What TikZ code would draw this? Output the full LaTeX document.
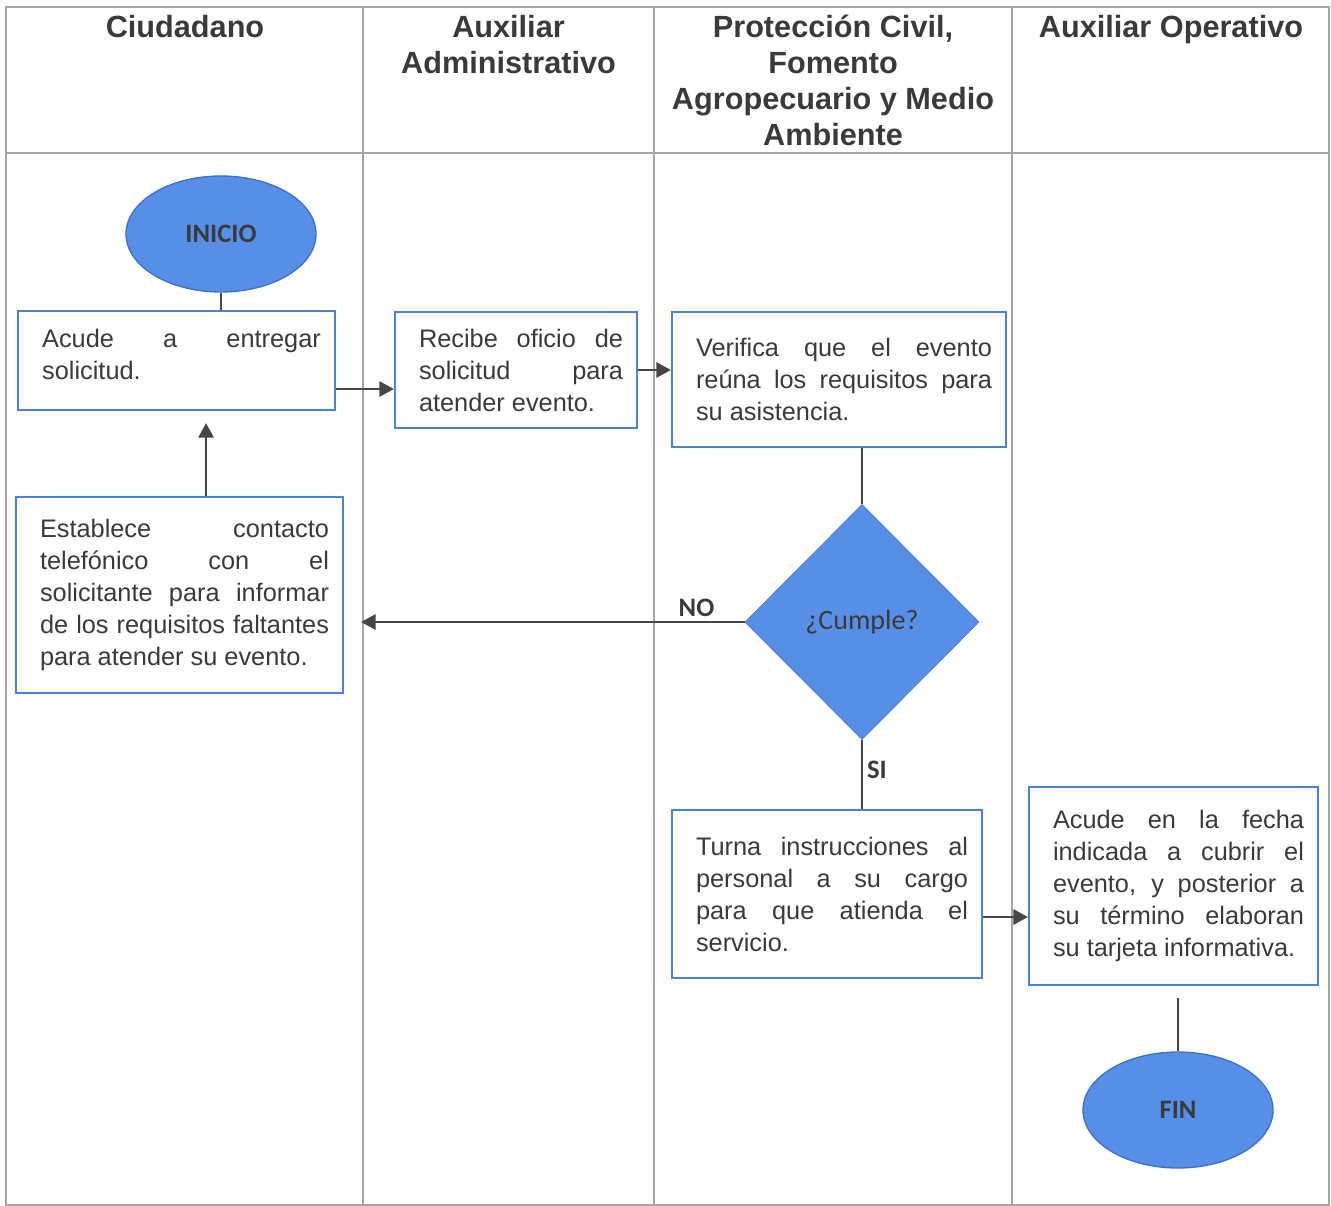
\documentclass[tikz,border=0pt]{standalone}
\usepackage{fontspec}
\setmainfont{Liberation Sans}
\newfontfamily\carlito{Carlito}
\usetikzlibrary{shapes.geometric,arrows.meta}

\definecolor{shapeblue}{RGB}{88,143,230}
\definecolor{edgeblue}{RGB}{62,112,200}
\definecolor{boxblue}{RGB}{78,128,214}
\definecolor{lanegray}{RGB}{165,165,165}
\definecolor{inkgray}{RGB}{58,58,58}
\definecolor{linkgray}{RGB}{70,70,70}

\hyphenpenalty=10000
\exhyphenpenalty=10000

\tikzset{every picture/.style={line width=0.75pt}}
\tikzset{
  lane/.style={draw=lanegray, line width=1.1pt},
  lanehead/.style={anchor=north, inner sep=0pt, align=center, text=inkgray, font=\fontsize{23}{27}\selectfont\bfseries},
  proc/.style={draw=boxblue, line width=1.6pt, fill=white, inner sep=0pt, align=justify, text=inkgray, font=\fontsize{19}{24}\selectfont, execute at begin node={\leftskip=7.5pt}},
  terminal/.style={ellipse, draw=edgeblue, fill=shapeblue, line width=1pt, minimum width=142.5pt, minimum height=87pt, inner sep=0pt, text=inkgray, font=\carlito\fontsize{20}{24}\selectfont\bfseries},
  decision/.style={diamond, draw=edgeblue!60!shapeblue, fill=shapeblue, line width=0.6pt, minimum width=175.5pt, minimum height=176.25pt, inner sep=0pt, text=inkgray, font=\carlito\fontsize{21}{25}\selectfont},
  lbl/.style={inner sep=3pt, text=inkgray, font=\carlito\fontsize{20}{24}\selectfont\bfseries},
  conn/.style={draw=linkgray, line width=1.6pt},
  arr/.style={conn, -{Triangle[length=11pt,width=11.5pt]}}
}

\begin{document}
\begin{tikzpicture}[x=0.75pt,y=0.75pt,yscale=-1,xscale=1]
\useasboundingbox (0,0) rectangle (1331,1206);

%Lanes
\draw[lane] (6,7) rectangle (1329,1205);
\draw[lane] (6,153) -- (1329,153);
\foreach \x in {363,654,1012}
  \draw[lane] (\x,7) -- (\x,1205);

% Text Node
\node[lanehead] (hciud) at (185,15) {Ciudadano};
% Text Node
\node[lanehead] (hadmin) at (508.5,15) {Auxiliar\\Administrativo};
% Text Node
\node[lanehead] (hprot) at (833,15) {Protección Civil,\\Fomento\\Agropecuario y Medio\\Ambiente};
% Text Node
\node[lanehead] (hoper) at (1171,15) {Auxiliar Operativo};

%Shape: Ellipse
\node[terminal] (inicio) at (221,234) {INICIO};
%Shape: Rectangle
\node[proc, text width=216.5pt, minimum width=237.75pt, minimum height=74.25pt] (acude) at (176.5,360.5) {Acude a entregar\linebreak solicitud.\vspace{9pt}};
%Shape: Rectangle
\node[proc, text width=160.5pt, minimum width=181.5pt, minimum height=87pt] (recibe) at (516,370) {Recibe oficio de\linebreak solicitud para\linebreak atender evento.};
%Shape: Rectangle
\node[proc, text width=229.5pt, minimum width=250.5pt, minimum height=101.25pt] (verifica) at (839,379.5) {Verifica que el evento\linebreak reúna los requisitos para\linebreak su asistencia.};
%Shape: Diamond
\node[decision] (cumple) at (862,622) {¿Cumple?};
%Shape: Rectangle
\node[proc, text width=224.25pt, minimum width=245.25pt, minimum height=147pt] (contacto) at (179.5,595) {Establece contacto\linebreak telefónico con el\linebreak solicitante para informar\linebreak de los requisitos faltantes\linebreak para atender su evento.};
%Shape: Rectangle
\node[proc, text width=211.5pt, minimum width=232.5pt, minimum height=126pt] (turna) at (827,894) {Turna instrucciones al\linebreak personal a su cargo\linebreak para que atienda el\linebreak servicio.};
%Shape: Rectangle
\node[proc, text width=195.75pt, minimum width=216.75pt, minimum height=148.5pt] (cubre) at (1173.5,886) {Acude en la fecha\linebreak indicada a cubrir el\linebreak evento, y posterior a\linebreak su término elaboran\linebreak su tarjeta informativa.};
%Shape: Ellipse
\node[terminal] (fin) at (1178,1110) {FIN};

%Straight Lines
\draw[conn] (inicio.south) -- (inicio.south |- acude.north);
\draw[arr] ([yshift=21.4pt]acude.east) coordinate (a1) -- (recibe.west |- a1);
\draw[arr] (recibe.east) -- (verifica.west |- recibe.east);
\draw[conn] (cumple.north |- verifica.south) -- (cumple.north);
\draw[arr, shorten >=12.75pt] (cumple.west) -- (contacto.east |- cumple.west) node[lbl, pos=0.12, above] {NO};
\draw[arr, shorten >=9pt] ([xshift=19.9pt]contacto.north) coordinate (a4) -- (acude.south -| a4);
\draw[conn] (cumple.south) -- (cumple.south |- turna.north) node[lbl, pos=0.43, right] {SI};
\draw[arr] ([yshift=17.25pt]turna.east) coordinate (a5) -- (cubre.west |- a5);
\draw[conn, shorten <=9pt] (fin.north |- cubre.south) -- (fin.north);

\end{tikzpicture}
\end{document}
